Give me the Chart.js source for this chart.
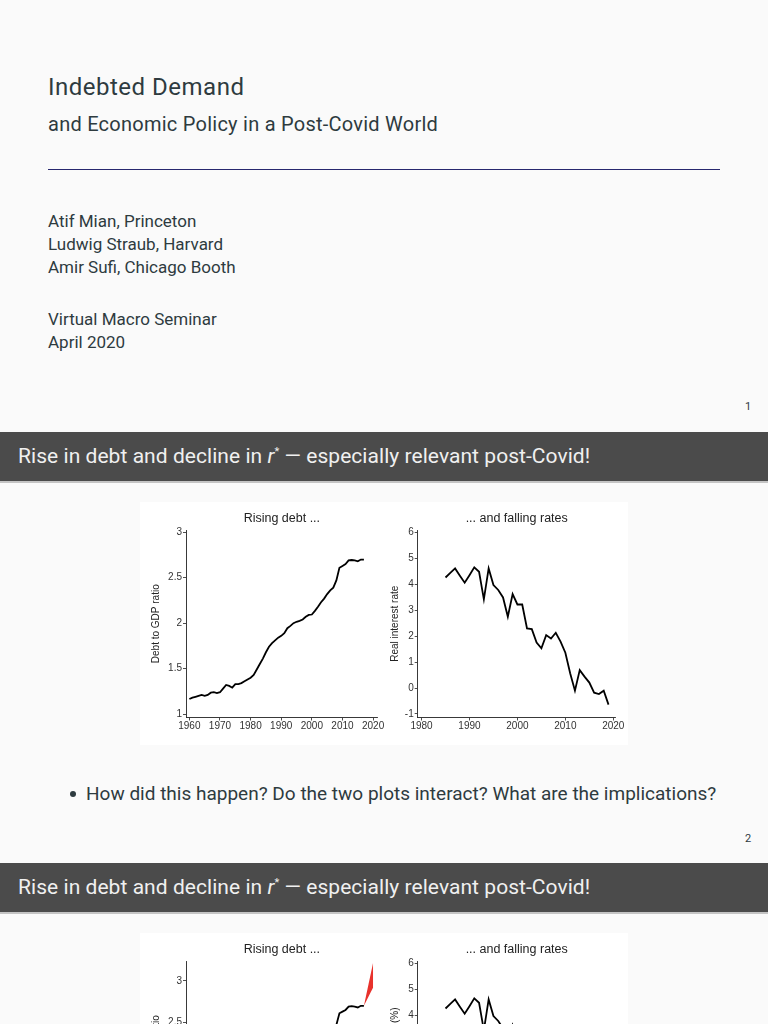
<!DOCTYPE html>
<html>
<head>
<meta charset="utf-8">
<script src="https://cdn.jsdelivr.net/npm/chart.js@4.4.1/dist/chart.umd.min.js"></script>
<style>
  html, body { margin: 0; padding: 0; }
  body {
    width: 768px; height: 1024px; overflow: hidden; position: relative;
    background: #fafafa; font-family: Roboto, "Noto Sans", sans-serif; color: #2e3b3f;
  }
  .t { position: absolute; white-space: nowrap; line-height: 1.2; }
  .rule { position: absolute; left: 48px; width: 672px; top: 168.5px; height: 1px; background: #27276e; }
  .band { position: absolute; left: 0; width: 768px; height: 49px; background: #4b4b4b; border-bottom: 2px solid #c4c4c4; }
  .band .t { color: #f0f0f0; left: 18px; font-size: 21px; letter-spacing: 0.05px; }
  .band sup { font-size: 11px; vertical-align: 0; position: relative; top: -8px; }
  .fig { position: absolute; left: 140px; width: 488px; background: #fff; }
  .box { position: absolute; }
  .pg { font-size: 11px; left: 745px; }
  .dot { position: absolute; width: 6px; height: 6px; border-radius: 3px; background: #2e3b3f; }
</style>
</head>
<body>

<!-- slide 1 -->
<div class="t" style="left:48px; top:72.5px; font-size:24px; letter-spacing:0.5px;">Indebted Demand</div>
<div class="t" style="left:48px; top:111.5px; font-size:20px; letter-spacing:0.25px;">and Economic Policy in a Post-Covid World</div>
<div class="rule"></div>
<div class="t" style="left:48px; top:210.5px; font-size:17px;">Atif Mian, Princeton</div>
<div class="t" style="left:48px; top:233.5px; font-size:17px;">Ludwig Straub, Harvard</div>
<div class="t" style="left:48px; top:256.5px; font-size:17px;">Amir Sufi, Chicago Booth</div>
<div class="t" style="left:48px; top:308.5px; font-size:17px;">Virtual Macro Seminar</div>
<div class="t" style="left:48px; top:332px; font-size:17px;">April 2020</div>
<div class="t pg" style="top:400px;">1</div>

<!-- slide 2 -->
<div class="band" style="top:432px;"><div class="t" style="top:11.5px;">Rise in debt and decline in <i>r</i><sup>*</sup> — especially relevant post-Covid!</div></div>
<div class="fig" style="top:502px; height:243px;"></div>
<div class="box" style="left:140px; top:502px; width:254px; height:243px;"><canvas id="debt1"></canvas></div>
<div class="box" style="left:384px; top:502px; width:256px; height:243px;"><canvas id="rate1"></canvas></div>
<div class="dot" style="left:69.5px; top:791px;"></div>
<div class="t" style="left:86px; top:782.5px; font-size:19px;">How did this happen? Do the two plots interact? What are the implications?</div>
<div class="t pg" style="top:832px;">2</div>

<!-- slide 3 -->
<div class="band" style="top:863px;"><div class="t" style="top:11.5px;">Rise in debt and decline in <i>r</i><sup>*</sup> — especially relevant post-Covid!</div></div>
<div class="fig" style="top:933px; height:243px;"></div>
<div class="box" style="left:140px; top:933px; width:254px; height:243px;"><canvas id="debt2"></canvas></div>
<div class="box" style="left:384px; top:933px; width:256px; height:243px;"><canvas id="rate2"></canvas></div>

<script>
// debt to GDP ratio, 1960-2017
const debtYears = [1960, 1961, 1962, 1963, 1964, 1965, 1966, 1967, 1968, 1969,
  1970, 1971, 1972, 1973, 1974, 1975, 1976, 1977, 1978, 1979,
  1980, 1981, 1982, 1983, 1984, 1985, 1986, 1987, 1988, 1989,
  1990, 1991, 1992, 1993, 1994, 1995, 1996, 1997, 1998, 1999,
  2000, 2001, 2002, 2003, 2004, 2005, 2006, 2007, 2008, 2009,
  2010, 2011, 2012, 2013, 2014, 2015, 2016, 2017];
const debtRatio = [1.165, 1.18, 1.19, 1.20, 1.21, 1.20, 1.21, 1.235, 1.24, 1.23,
  1.24, 1.28, 1.32, 1.31, 1.29, 1.33, 1.33, 1.34, 1.36, 1.38,
  1.40, 1.43, 1.49, 1.55, 1.61, 1.68, 1.74, 1.78, 1.81, 1.84,
  1.86, 1.89, 1.945, 1.97, 2.00, 2.015, 2.025, 2.04, 2.07, 2.09,
  2.095, 2.135, 2.18, 2.23, 2.27, 2.32, 2.36, 2.39, 2.47, 2.61,
  2.63, 2.65, 2.69, 2.695, 2.69, 2.68, 2.70, 2.70];

// post-covid fan (third slide)
const fanYears = [2017, 2020];
const fanLow = [2.70, 2.92];
const fanHigh = [2.70, 3.22];

// real interest rate, 1985-2019
const rateYears = [1985, 1986, 1987, 1988, 1989, 1990, 1991, 1992, 1993, 1994,
  1995, 1996, 1997, 1998, 1999, 2000, 2001, 2002, 2003, 2004,
  2005, 2006, 2007, 2008, 2009, 2010, 2011, 2012, 2013, 2014,
  2015, 2016, 2017, 2018, 2019];
const realRate = [4.26, 4.44, 4.61, 4.33, 4.06, 4.35, 4.65, 4.48, 3.42, 4.61,
  3.97, 3.78, 3.49, 2.75, 3.62, 3.22, 3.22, 2.30, 2.27, 1.75,
  1.53, 2.04, 1.91, 2.13, 1.79, 1.36, 0.57, -0.10, 0.69, 0.44,
  0.21, -0.18, -0.23, -0.10, -0.64];

// tick labels
const debtXTicks = [1960, 1970, 1980, 1990, 2000, 2010, 2020];
const debtYTicks = [1, 1.5, 2, 2.5, 3];
const rateXTicks = [1980, 1990, 2000, 2010, 2020];
const rateYTicks = [-1, 0, 1, 2, 3, 4, 5, 6];

const ink = '#222';
const font = 'Liberation Sans, Arial, sans-serif';

function pts(xs, ys) {
  return xs.map((x, i) => ({ x: x, y: ys[i] }));
}

function axis(min, max, ticks, extra) {
  return Object.assign({
    type: 'linear', min: min, max: max,
    afterBuildTicks: s => { s.ticks = ticks.map(v => ({ value: v })); },
    grid: { drawOnChartArea: false, drawTicks: true, tickLength: 3, color: ink, lineWidth: 0.8 },
    border: { display: true, color: ink, width: 0.9 },
    ticks: { color: '#333', font: { family: font, size: 10 }, padding: 1, maxRotation: 0, autoSkip: false,
      callback: v => String(v) }
  }, extra);
}

function lineChart(id, o) {
  new Chart(document.getElementById(id), {
    type: 'line',
    data: { datasets: o.datasets },
    options: {
      responsive: true, maintainAspectRatio: false, animation: false,
      layout: { padding: { left: 0, right: o.padRight, top: 0, bottom: 0 } },
      plugins: {
        legend: { display: false }, tooltip: { enabled: false },
        title: { display: true, text: o.title, fullSize: false, color: ink,
          font: { family: font, size: 12.5, weight: 'normal' }, padding: { top: 9.5, bottom: 3.5 } }
      },
      scales: {
        x: axis(o.xMin, o.xMax, o.xTicks, {
          afterFit: s => { s.height = 27.5; },
          ticks: { color: '#333', font: { family: font, size: 10 }, padding: 0, maxRotation: 0, autoSkip: false,
            callback: v => String(v) }
        }),
        y: axis(o.yMin, o.yMax, o.yTicks, {
          afterFit: s => { s.width = o.yWidth; },
          title: { display: true, text: o.yTitle, color: ink, font: { family: font, size: 10 },
            padding: { top: o.yTitlePad, bottom: 0 } }
        })
      }
    }
  });
}

const debtLine = { data: pts(debtYears, debtRatio), borderColor: '#000', borderWidth: 1.8,
  pointRadius: 0, tension: 0, fill: false };

lineChart('debt1', {
  title: 'Rising debt ...', yTitle: 'Debt to GDP ratio',
  datasets: [debtLine],
  xMin: 1958.9, xMax: 2021.5, xTicks: debtXTicks,
  yMin: 0.962, yMax: 3.025, yTicks: debtYTicks,
  yWidth: 46, yTitlePad: 10.7, padRight: 16.3
});

lineChart('rate1', {
  title: '... and falling rates', yTitle: 'Real interest rate',
  datasets: [{ data: pts(rateYears, realRate), borderColor: '#000', borderWidth: 1.8,
    pointRadius: 0, tension: 0, fill: false }],
  xMin: 1979.2, xMax: 2020.5, xTicks: rateXTicks,
  yMin: -1.135, yMax: 6.09, yTicks: rateYTicks,
  yWidth: 33.7, yTitlePad: 5, padRight: 24.3
});

lineChart('debt2', {
  title: 'Rising debt ...', yTitle: 'Debt to GDP ratio',
  datasets: [
    { data: pts(fanYears, fanLow), borderWidth: 0, pointRadius: 0, fill: false, borderColor: 'rgba(0,0,0,0)' },
    { data: pts(fanYears, fanHigh), borderWidth: 0, pointRadius: 0, fill: '-1', borderColor: 'rgba(0,0,0,0)',
      backgroundColor: '#e8322c' },
    debtLine
  ],
  xMin: 1958.9, xMax: 2021.5, xTicks: debtXTicks,
  yMin: 0.98, yMax: 3.24, yTicks: debtYTicks,
  yWidth: 46, yTitlePad: 10.7, padRight: 16.3
});

lineChart('rate2', {
  title: '... and falling rates', yTitle: 'Real interest rate (%)',
  datasets: [{ data: pts(rateYears, realRate), borderColor: '#000', borderWidth: 1.8,
    pointRadius: 0, tension: 0, fill: false }],
  xMin: 1979.2, xMax: 2020.5, xTicks: rateXTicks,
  yMin: -1.135, yMax: 6.09, yTicks: rateYTicks,
  yWidth: 33.7, yTitlePad: 5, padRight: 24.3
});
</script>
</body>
</html>
